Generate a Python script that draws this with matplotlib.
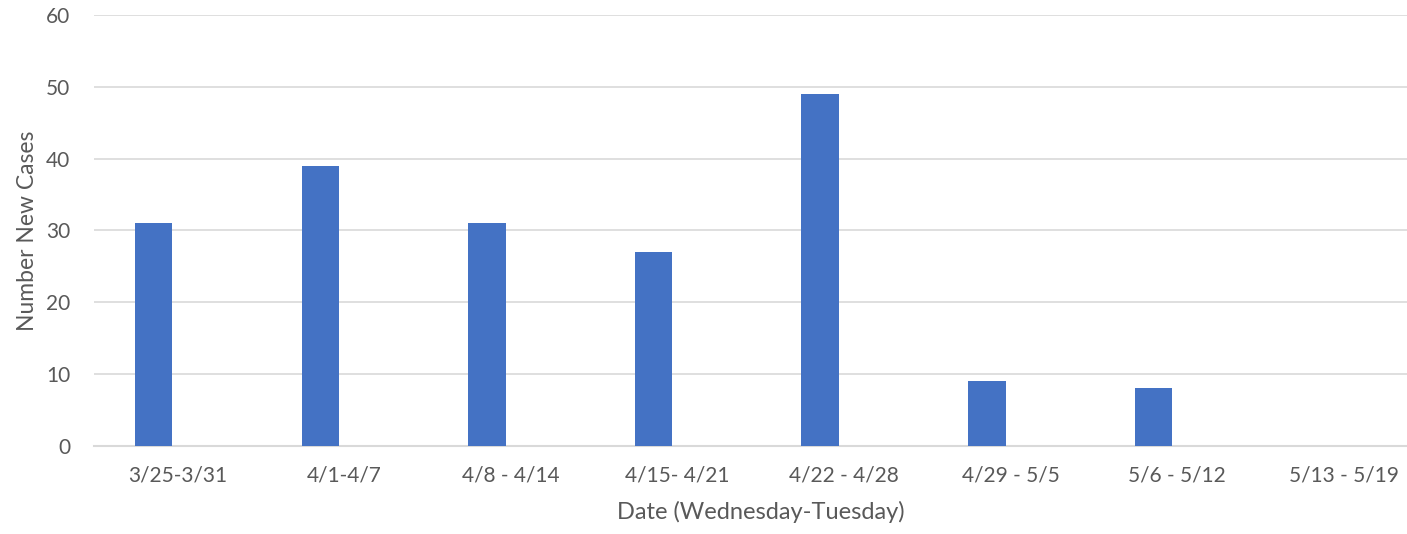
import matplotlib.pyplot as plt
import numpy as np

# Datos semanales
weeks = ["3/25-3/31", "4/1-4/7", "4/8 - 4/14", "4/15- 4/21",
         "4/22 - 4/28", "4/29 - 5/5", "5/6 - 5/12", "5/13 - 5/19"]
new_cases = [31, 39, 31, 27, 49, 9, 8, 0]

plt.rcParams['font.family'] = ['Lato', 'DejaVu Sans']
GRAY = "#595959"

fig = plt.figure(figsize=(14.07, 5.34), dpi=100)
W, H = 1407, 534
ax = fig.add_axes([94 / W, (H - 445.7) / H, (1427 - 94) / W, (445.7 - 15) / H])

x = np.arange(len(weeks))
ax.bar(x - 0.142, new_cases, width=0.225, color="#4472C4", zorder=3)

ax.set_xlim(-0.5, len(weeks) - 0.5)
ax.set_ylim(0, 60)
ax.set_yticks(range(0, 61, 10))
ax.set_xticks(x)
ax.set_xticklabels(weeks)
ax.grid(axis="y", color="#D9D9D9", linewidth=1.2, zorder=0)

for s in ["top", "right", "left"]:
    ax.spines[s].set_visible(False)
ax.spines["bottom"].set_color("#D9D9D9")
ax.spines["bottom"].set_linewidth(1.5)

ax.tick_params(axis="both", length=0, labelsize=15, colors=GRAY)
ax.tick_params(axis="y", pad=17)
ax.tick_params(axis="x", pad=14)

ax.set_ylabel("Number New Cases", fontsize=16.5, color=GRAY, labelpad=6)
ax.set_xlabel("Date (Wednesday-Tuesday)", fontsize=17, color=GRAY, labelpad=11)

fig.savefig("out.png", dpi=100)
